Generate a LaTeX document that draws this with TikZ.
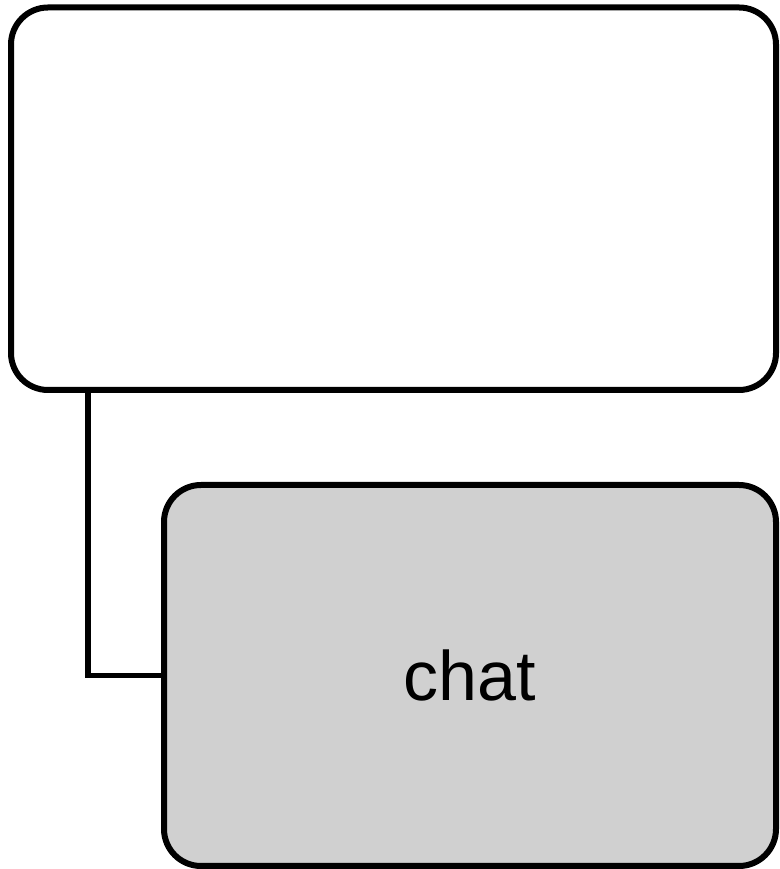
\documentclass[tikz,border=0pt]{standalone}
\usepackage{fontspec}
\setmainfont{Liberation Sans}
\definecolor{boxgray}{RGB}{208,208,208}
\begin{document}
\begin{tikzpicture}[x=1pt,y=1pt,
  box/.style={draw=black, line width=6pt, rounded corners=37pt, rectangle, inner sep=0pt},
  link/.style={draw=black, line width=5.5pt}]
\useasboundingbox (0,0) rectangle (779,869);
\node[box, fill=white, minimum width=765pt, minimum height=382.5pt] (top) at (393.5,670.25) {};
\node[box, fill=boxgray, minimum width=612pt, minimum height=381pt, font=\fontsize{70}{84}\selectfont] (bottom) at (470,193.5) {chat};
\draw[link] ([xshift=80pt]top.south west) |- (bottom.west);
\end{tikzpicture}
\end{document}
